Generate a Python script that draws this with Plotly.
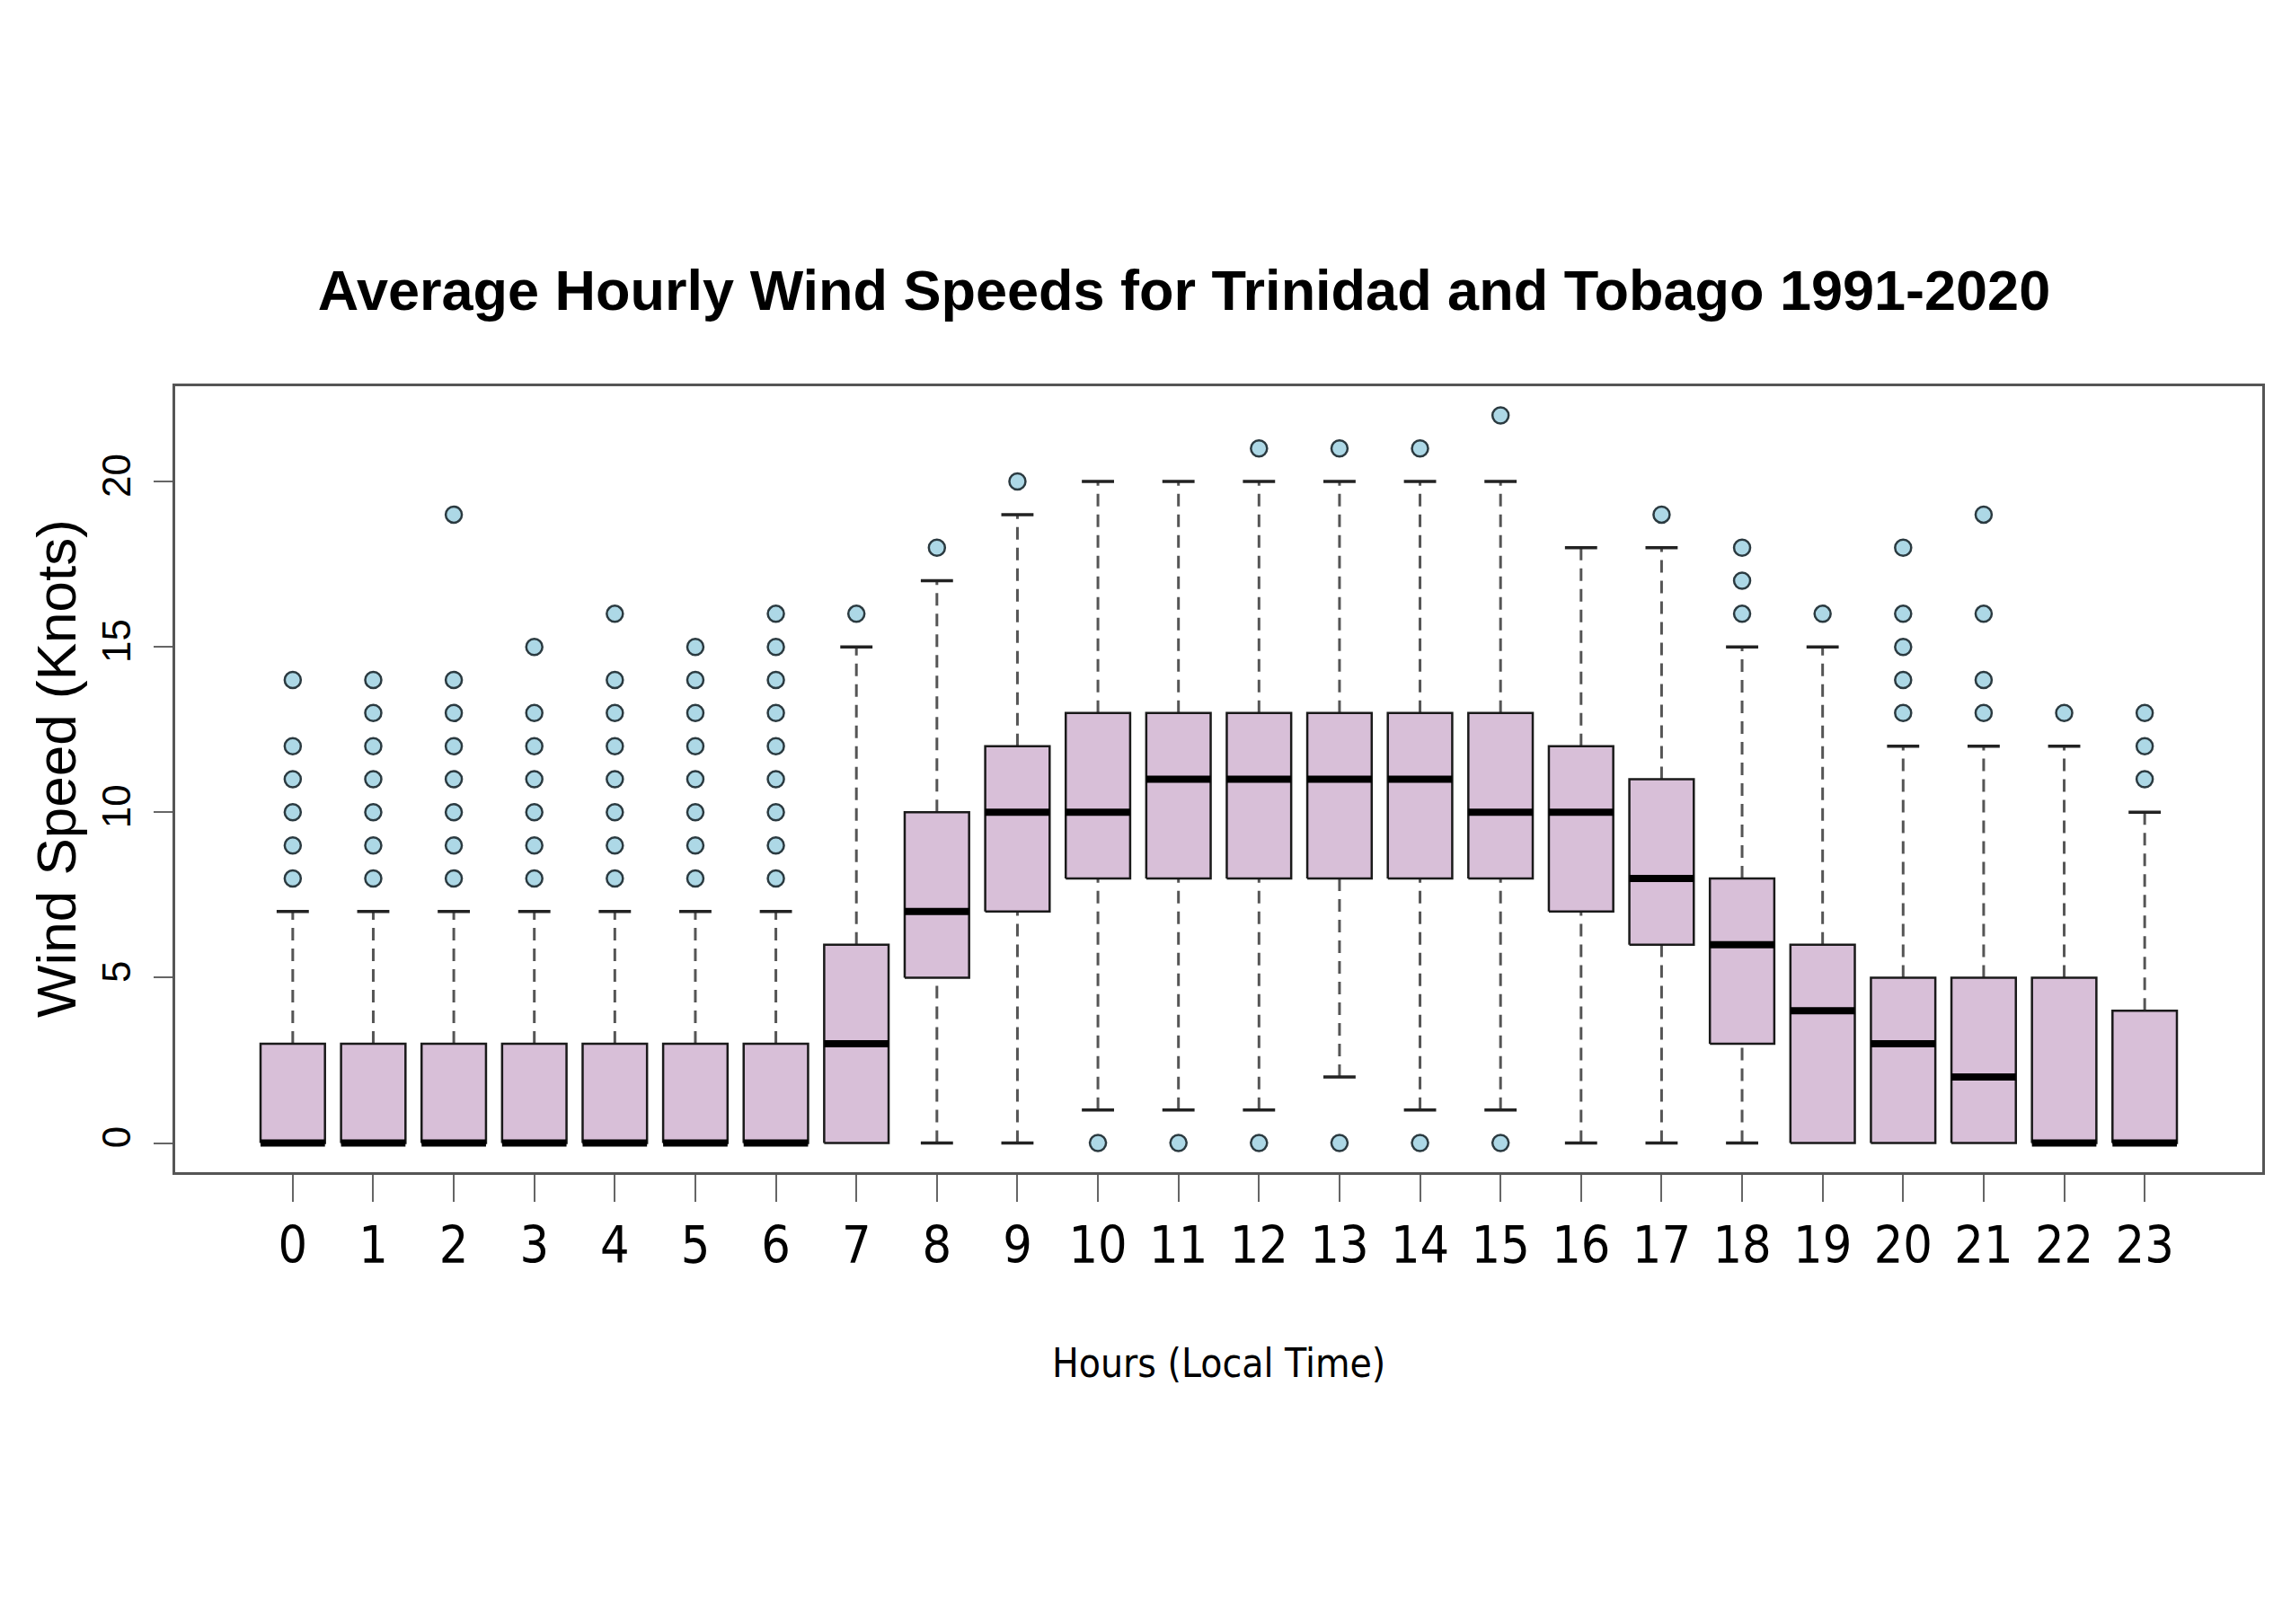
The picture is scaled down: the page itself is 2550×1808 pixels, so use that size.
import plotly.graph_objects as go

# ---------------- data ----------------
hours = list(range(24))
tick_labels = [str(h) for h in hours]
y_ticks = [0, 5, 10, 15, 20]

lower_whisker = [0, 0, 0, 0, 0, 0, 0, 0, 0, 0, 1, 1, 1, 2, 1, 1, 0, 0, 0, 0, 0, 0, 0, 0]
q1 = [0, 0, 0, 0, 0, 0, 0, 0, 5, 7, 8, 8, 8, 8, 8, 8, 7, 6, 3, 0, 0, 0, 0, 0]
median = [0, 0, 0, 0, 0, 0, 0, 3, 7, 10, 10, 11, 11, 11, 11, 10, 10, 8, 6, 4, 3, 2, 0, 0]
q3 = [3, 3, 3, 3, 3, 3, 3, 6, 10, 12, 13, 13, 13, 13, 13, 13, 12, 11, 8, 6, 5, 5, 5, 4]
upper_whisker = [7, 7, 7, 7, 7, 7, 7, 15, 17, 19, 20, 20, 20, 20, 20, 20, 18, 18, 15, 15, 12, 12, 12, 10]
outliers = [
    [8, 9, 10, 11, 12, 14],
    [8, 9, 10, 11, 12, 13, 14],
    [8, 9, 10, 11, 12, 13, 14, 19],
    [8, 9, 10, 11, 12, 13, 15],
    [8, 9, 10, 11, 12, 13, 14, 16],
    [8, 9, 10, 11, 12, 13, 14, 15],
    [8, 9, 10, 11, 12, 13, 14, 15, 16],
    [16],
    [18],
    [20],
    [0],
    [0],
    [0, 21],
    [0, 21],
    [0, 21],
    [0, 22],
    [],
    [19],
    [16, 17, 18],
    [16],
    [13, 14, 15, 16, 18],
    [13, 14, 16, 19],
    [13],
    [11, 12, 13],
]

title_text = "Average Hourly Wind Speeds for Trinidad and Tobago 1991-2020"
x_title = "Hours (Local Time)"
y_title = "Wind Speed (Knots)"

# ---------------- styling ----------------
BOX_HALF = 0.4      # R boxwex 0.8
CAP_HALF = 0.2      # staplewex 0.5
BOX_FILL = "#D8BFD8"
NARROW = "Liberation Sans Narrow, DejaVu Sans Condensed, Liberation Sans, Arial, sans-serif"
SANS = "Liberation Sans, Arial, sans-serif"

# whiskers (dashed)
wx, wy = [], []
for h, lw, a, b, uw in zip(hours, lower_whisker, q1, q3, upper_whisker):
    if uw > b:
        wx += [h, h, None]
        wy += [b, uw, None]
    if lw < a:
        wx += [h, h, None]
        wy += [lw, a, None]

# boxes
bx, by = [], []
for h, a, b in zip(hours, q1, q3):
    bx += [h - BOX_HALF, h + BOX_HALF, h + BOX_HALF, h - BOX_HALF, h - BOX_HALF, None]
    by += [a, a, b, b, a, None]

# medians
mx, my = [], []
for h, m in zip(hours, median):
    mx += [h - BOX_HALF, h + BOX_HALF, None]
    my += [m, m, None]

# caps
cx, cy = [], []
for h, lw, a, b, uw in zip(hours, lower_whisker, q1, q3, upper_whisker):
    if uw > b:
        cx += [h - CAP_HALF, h + CAP_HALF, None]
        cy += [uw, uw, None]
    if lw < a:
        cx += [h - CAP_HALF, h + CAP_HALF, None]
        cy += [lw, lw, None]

# outliers
ox, oy = [], []
for h, pts in zip(hours, outliers):
    for p in pts:
        ox.append(h)
        oy.append(p)

fig = go.Figure()
fig.add_trace(go.Scatter(x=wx, y=wy, mode="lines",
                         line=dict(color="#555555", width=3, dash="14px,9px"),
                         hoverinfo="skip", showlegend=False))
fig.add_trace(go.Scatter(x=bx, y=by, mode="lines", fill="toself", fillcolor=BOX_FILL,
                         line=dict(color="#1a1a1a", width=2.5),
                         hoverinfo="skip", showlegend=False))
fig.add_trace(go.Scatter(x=mx, y=my, mode="lines",
                         line=dict(color="black", width=8),
                         hoverinfo="skip", showlegend=False))
fig.add_trace(go.Scatter(x=cx, y=cy, mode="lines",
                         line=dict(color="#222222", width=3.5),
                         hoverinfo="skip", showlegend=False))
fig.add_trace(go.Scatter(x=ox, y=oy, mode="markers",
                         marker=dict(symbol="circle", size=18, color="#ADD8E6",
                                     line=dict(color="#2b3a40", width=2.5)),
                         showlegend=False))

W, H = 2550, 1808
L, R, T, B = 187, 40, 422, 511

fig.update_layout(
    width=W, height=H,
    margin=dict(l=L, r=R, t=T, b=B, pad=0),
    paper_bgcolor="white", plot_bgcolor="white",
    showlegend=False,
    title=dict(text=title_text, x=1310 / W, y=1 - 315 / H,
               xanchor="center", yanchor="middle",
               font=dict(family=SANS, size=63, color="black", weight="bold")),
    xaxis=dict(range=[-1.46, 24.46], tickmode="array", tickvals=hours, ticktext=tick_labels,
               ticks="outside", ticklen=30, tickwidth=2, tickcolor="#666666",
               showline=True, linecolor="#555555", linewidth=3, mirror=True,
               showgrid=False, zeroline=False,
               tickfont=dict(family=NARROW, size=57, color="black")),
    yaxis=dict(range=[-0.88, 22.88], tickmode="array", tickvals=y_ticks,
               ticktext=[str(v) for v in y_ticks], tickangle=-90,
               ticks="outside", ticklen=21, tickwidth=2, tickcolor="#666666",
               ticklabelstandoff=8,
               showline=True, linecolor="#555555", linewidth=3, mirror=True,
               showgrid=False, zeroline=False,
               tickfont=dict(family=SANS, size=44, color="black")),
    annotations=[
        dict(text=x_title, x=0.5, y=0, xref="paper", yref="paper",
             xanchor="center", yanchor="middle", yshift=-212, showarrow=False,
             font=dict(family=NARROW, size=44, color="black")),
        dict(text=y_title, x=0, y=(1297 - 848) / (1297 - 422), xref="paper", yref="paper",
             xanchor="center", yanchor="middle", xshift=-133, textangle=-90, showarrow=False,
             font=dict(family=SANS, size=62, color="black")),
    ],
)

fig.write_html("out.html")
